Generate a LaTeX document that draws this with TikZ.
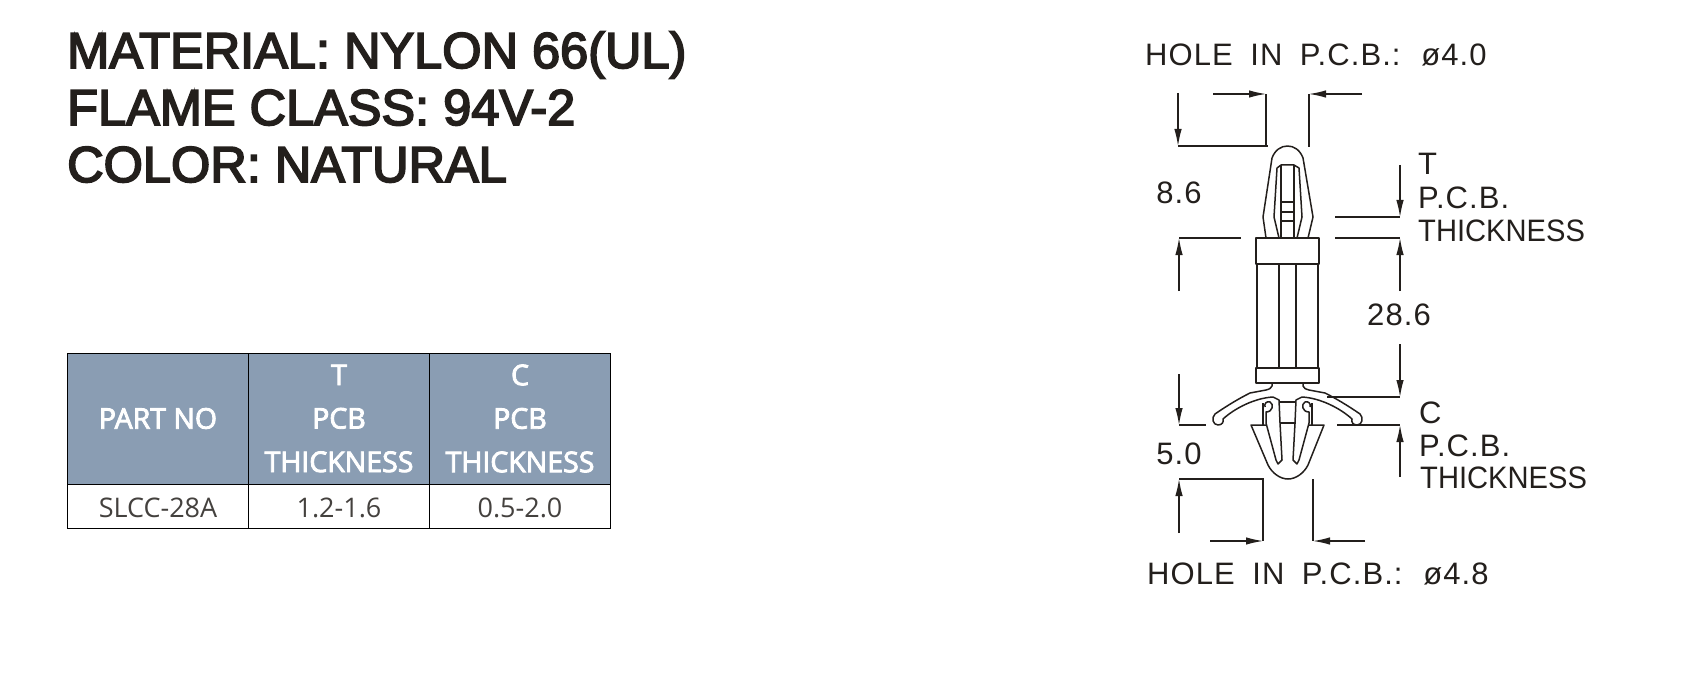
\documentclass[tikz,border=0pt]{standalone}
\usepackage{fontspec}
\setmainfont{Liberation Sans}
\newfontfamily\titlefont[FakeBold=3.5]{Liberation Sans}
\newfontfamily\cellfont{Open Sans}
\newfontfamily\headfont[FakeBold=3]{Open Sans}
\newfontfamily\dimfont[LetterSpace=3.5,WordSpace=1.8]{Liberation Sans}
\newfontfamily\thickfont[FakeStretch=0.94]{Liberation Sans}
\usepackage{tikz}
\usetikzlibrary{arrows.meta,positioning}
\definecolor{headblue}{HTML}{8A9DB3}
\definecolor{inkdark}{HTML}{231F1C}
\tikzset{
	part/.style={line width=1.5pt, color=inkdark, line join=round},
	dimline/.style={line width=1.3pt, color=inkdark},
	dimarrow/.style={dimline, -{Latex[length=17pt,width=7.5pt]}},
	titletext/.style={anchor=base west, inner sep=0pt, text=inkdark, font=\fontsize{50.5}{50.5}\titlefont},
	dimtext/.style={anchor=base west, inner sep=0pt, text=inkdark, font=\fontsize{31}{31}\dimfont},
	thicktext/.style={anchor=base west, inner sep=0pt, text=inkdark, font=\fontsize{31}{31}\thickfont},
	headcell/.style={draw=black, line width=1pt, fill=headblue, text=white, align=center, inner sep=0pt, outer sep=0pt, font=\fontsize{28.5}{43.5}\headfont},
	datacell/.style={draw=black, line width=1pt, text=inkdark!85, inner sep=0pt, outer sep=0pt, text height=23pt, text depth=0pt, font=\fontsize{27}{27}\cellfont}
}
\begin{document}
\begin{tikzpicture}[x=1pt, y=-1pt]
	\useasboundingbox (0, 0) rectangle (1693, 676);
	\node [titletext] (material) at (67, 68) {MATERIAL: NYLON 66(UL)};
	\node [titletext] (flame) at (67, 125) {FLAME CLASS: 94V-2};
	\node [titletext] (colour) at (67, 182) {COLOR: NATURAL};

	\node [headcell, minimum width=181pt, minimum height=131pt] (partno) at (158, 418.5) {PART NO};
	\node [headcell, minimum width=181pt, minimum height=131pt, right=0pt of partno] (tcol) {T\\PCB\\THICKNESS};
	\node [headcell, minimum width=181pt, minimum height=131pt, right=0pt of tcol] (ccol) {C\\PCB\\THICKNESS};
	\node [datacell, minimum width=181pt, minimum height=44pt, below=0pt of partno] (partval) {SLCC-28A};
	\node [datacell, minimum width=181pt, minimum height=44pt, below=0pt of tcol] (tval) {1.2-1.6};
	\node [datacell, minimum width=181pt, minimum height=44pt, below=0pt of ccol] (cval) {0.5-2.0};

	\node [dimtext] (holetop) at (1145, 66) {HOLE IN P.C.B.: ø4.0};
	\node [dimtext] (holebot) at (1147, 584) {HOLE IN P.C.B.: ø4.8};
	\node [dimtext, anchor=center] (lenhead) at (1179, 193) {8.6};
	\node [dimtext, anchor=center] (lenstem) at (1399, 315) {28.6};
	\node [dimtext, anchor=center] (lenfoot) at (1179, 454) {5.0};
	\node [dimtext] (tlabel) at (1418, 175) {T};
	\node [dimtext] (tpcb) at (1418, 209) {P.C.B.};
	\node [thicktext] (tthick) at (1418, 241) {THICKNESS};
	\node [dimtext] (clabel) at (1419, 423) {C};
	\node [dimtext] (cpcb) at (1419, 456) {P.C.B.};
	\node [thicktext] (cthick) at (1420, 488) {THICKNESS};

	\draw [dimarrow] (1178, 93) -- (1178, 146);
	\draw [dimline] (1178, 146) -- (1268, 146);
	\draw [dimline] (1266, 147) -- (1266, 94);
	\draw [dimarrow] (1213, 94) -- (1266, 94);
	\draw [dimline] (1309, 147) -- (1309, 94);
	\draw [dimarrow] (1362, 94) -- (1309, 94);
	\draw [dimarrow] (1179, 291) -- (1179, 238);
	\draw [dimline] (1179, 238) -- (1241, 238);
	\draw [dimarrow] (1400, 165) -- (1400, 217);
	\draw [dimline] (1335, 217) -- (1400, 217);
	\draw [dimline] (1335, 238) -- (1400, 238);
	\draw [dimarrow] (1400, 291) -- (1400, 238);
	\draw [dimarrow] (1400, 344) -- (1400, 397);
	\draw [dimline] (1327, 397) -- (1400, 397);
	\draw [dimline] (1337, 425) -- (1400, 425);
	\draw [dimarrow] (1400, 477) -- (1400, 425);
	\draw [dimarrow] (1179, 374) -- (1179, 425);
	\draw [dimline] (1179, 425) -- (1206, 425);
	\draw [dimarrow] (1179, 533) -- (1179, 479);
	\draw [dimline] (1179, 479) -- (1263, 479) -- (1263, 541);
	\draw [dimarrow] (1210, 541) -- (1263, 541);
	\draw [dimline] (1313, 479) -- (1313, 541);
	\draw [dimarrow] (1365, 541) -- (1313, 541);

	\draw [part] (1266, 238) -- (1263, 217) -- (1272, 158) .. controls (1275, 150) and (1281, 146) .. (1287.5, 146) .. controls (1294, 146) and (1300, 150) .. (1303, 158) -- (1313, 217) -- (1308, 238);
	\draw [part] (1279, 238) -- (1274, 217) -- (1277, 168) -- (1281, 165) -- (1294, 165) -- (1299, 168) -- (1302, 217) -- (1297, 238);
	\draw [part] (1281, 165) -- (1281, 238);
	\draw [part] (1294, 165) -- (1294, 238);
	\foreach \rungy in {202, 212, 221}
		\draw [part] (1281, \rungy) -- (1294, \rungy);
	\draw [part] (1256, 238) rectangle (1319, 264);
	\foreach \stemx in {1257, 1279, 1296, 1318}
		\draw [part] (\stemx, 264) -- (\stemx, 368);
	\draw [part] (1256, 368) rectangle (1319, 383);

	\draw [part] (1272, 383) -- (1272, 386) .. controls (1271, 388) and (1270, 389) .. (1266, 390) -- (1250, 393) .. controls (1240, 398) and (1228, 405) .. (1215, 414) .. controls (1211, 418) and (1213, 425) .. (1218, 425) .. controls (1222, 425) and (1224, 422) .. (1223, 419) .. controls (1235, 408) and (1255, 398) .. (1273, 397) -- (1279, 400) -- (1280, 423) -- (1282, 460) -- (1278, 464) -- (1276, 460) -- (1266, 423) -- (1266, 412) .. controls (1273, 412) and (1274, 404) .. (1270, 402) .. controls (1267, 401) and (1264, 403) .. (1265, 407);
	\draw [part] (1303, 383) -- (1303, 386) .. controls (1304, 388) and (1305, 389) .. (1309, 390) -- (1325, 393) .. controls (1335, 398) and (1347, 405) .. (1360, 414) .. controls (1364, 418) and (1362, 425) .. (1357, 425) .. controls (1353, 425) and (1351, 422) .. (1352, 419) .. controls (1340, 408) and (1320, 398) .. (1302, 397) -- (1296, 400) -- (1295, 423) -- (1293, 460) -- (1297, 464) -- (1299, 460) -- (1309, 423) -- (1309, 412) .. controls (1302, 412) and (1301, 404) .. (1305, 402) .. controls (1308, 401) and (1311, 403) .. (1310, 407);
	\draw [part] (1263, 403) -- (1263, 425);
	\draw [part] (1312, 403) -- (1312, 425);
	\draw [part] (1280, 402) -- (1296, 402);
	\draw [part] (1280, 423) -- (1296, 423);
	\draw [part] (1266, 425) -- (1251, 425) -- (1268, 465) .. controls (1272, 473) and (1280, 479) .. (1288, 479) .. controls (1296, 479) and (1304, 473) .. (1308, 465) -- (1324, 425) -- (1309, 425);
\end{tikzpicture}
\end{document}
